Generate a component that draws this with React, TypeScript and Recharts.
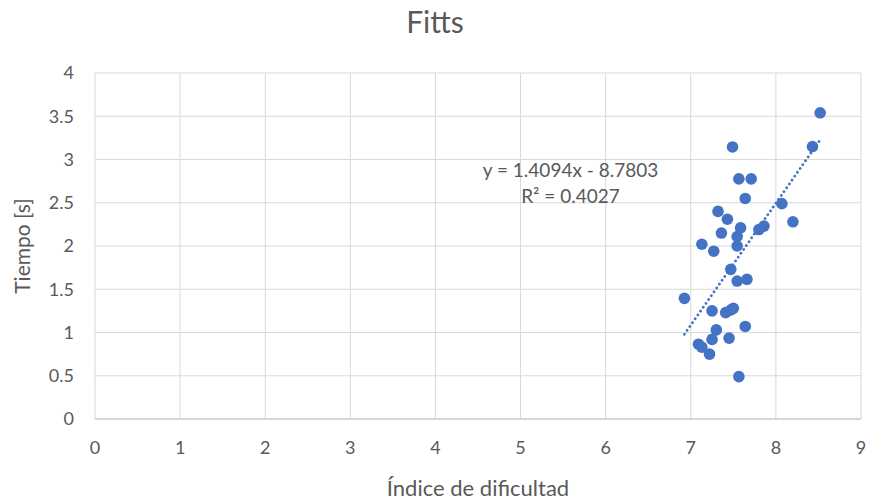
import { ScatterChart, Scatter, XAxis, YAxis, CartesianGrid, ReferenceDot } from "recharts"

// readings
const indice = [
  8.52, 7.49, 8.43, 7.565, 7.71, 7.64, 8.07, 7.32, 7.43, 8.2, 7.36, 7.585, 7.8, 7.86, 7.545, 7.13, 7.27,
  7.545, 7.47, 7.545, 7.66, 6.925, 7.25, 7.41, 7.47, 7.5, 7.64, 7.3, 7.25, 7.45, 7.09, 7.13, 7.22, 7.565,
]
const tiempo = [
  3.54, 3.145, 3.15, 2.776, 2.776, 2.55, 2.49, 2.4, 2.31, 2.28, 2.15, 2.21, 2.19, 2.23, 2.11, 2.02, 1.94,
  2.0, 1.73, 1.595, 1.615, 1.395, 1.25, 1.23, 1.26, 1.28, 1.07, 1.03, 0.92, 0.935, 0.865, 0.83, 0.75, 0.49,
]
const xTicks = [0, 1, 2, 3, 4, 5, 6, 7, 8, 9]
const yTicks = [0, 0.5, 1, 1.5, 2, 2.5, 3, 3.5, 4]
const slope = 1.4094
const intercept = -8.7803

const points = indice.map((x, i) => ({ x, y: tiempo[i] }))
const xMin = Math.min(...indice)
const xMax = Math.max(...indice)
const trend = [xMin, xMax].map((x) => ({ x, y: slope * x + intercept }))

const FONT = "Lato, 'Open Sans', sans-serif"
const GREY = "#595959"
const BLUE = "#4472C4"

export default function App() {
  return (
    <div style={{ position: "absolute", left: 0, top: 0, width: 870, height: 504, background: "#fff", fontFamily: FONT }}>
      <div
        style={{
          position: "absolute",
          top: 2,
          left: 0,
          width: 870,
          textAlign: "center",
          fontSize: 30,
          lineHeight: "38px",
          color: GREY,
        }}
      >
        Fitts
      </div>
      <ScatterChart width={870} height={504} margin={{ top: 73, right: 9, bottom: 0, left: 0 }}>
        <CartesianGrid stroke="#d9d9d9" strokeWidth={1} />
        <XAxis
          type="number"
          dataKey="x"
          domain={[0, 9]}
          ticks={xTicks}
          interval={0}
          height={85}
          tickLine={false}
          tickSize={0}
          tickMargin={22}
          axisLine={{ stroke: "#bfbfbf" }}
          tick={{ fill: GREY, fontSize: 18, fontFamily: FONT }}
          label={{ value: "Índice de dificultad", position: "insideBottom", offset: 8, fill: GREY, fontSize: 22, fontFamily: FONT }}
        />
        <YAxis
          type="number"
          dataKey="y"
          domain={[0, 4]}
          ticks={yTicks}
          interval={0}
          width={95}
          tickLine={false}
          tickSize={0}
          tickMargin={21}
          axisLine={false}
          tick={{ fill: GREY, fontSize: 18, fontFamily: FONT }}
          label={{ value: "Tiempo [s]", angle: -90, position: "insideLeft", offset: 23, fill: GREY, fontSize: 21, fontFamily: FONT, style: { textAnchor: "middle" } }}
        />
        <Scatter data={points} fill={BLUE} isAnimationActive={false} shape={(p: any) => <circle cx={p.cx} cy={p.cy} r={5.8} fill={BLUE} />} />
        <Scatter
          data={trend}
          isAnimationActive={false}
          line={{ stroke: BLUE, strokeWidth: 2.75, strokeDasharray: "0.1 4.6", strokeLinecap: "round" }}
          shape={() => null}
          legendType="none"
        />
        <ReferenceDot
          x={5.587}
          y={2.873}
          r={0}
          ifOverflow="visible"
          label={{ value: "y = 1.4094x - 8.7803", position: "center", fill: GREY, fontSize: 19, fontFamily: FONT }}
        />
        <ReferenceDot
          x={5.587}
          y={2.575}
          r={0}
          ifOverflow="visible"
          label={{ value: "R² = 0.4027", position: "center", fill: GREY, fontSize: 19, fontFamily: FONT }}
        />
      </ScatterChart>
    </div>
  )
}
